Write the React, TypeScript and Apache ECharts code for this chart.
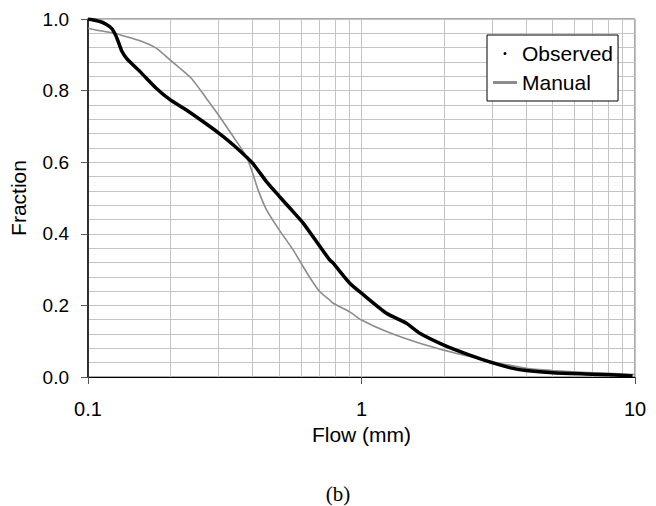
import React, { useEffect, useRef } from "react";
import * as echarts from "echarts";

const observedX = [0.1, 0.1106, 0.116, 0.122, 0.126, 0.129, 0.133, 0.1384, 0.145, 0.155, 0.178, 0.2, 0.229, 0.264, 0.3, 0.34, 0.4, 0.45, 0.5, 0.55, 0.612, 0.704, 0.765, 0.788, 0.906, 1.0, 1.234, 1.46, 1.633, 2.0, 2.487, 3.0, 3.58, 4.0, 5.0, 7.0, 8.08, 9.8];
const observedY = [1.0, 0.993, 0.986, 0.974, 0.956, 0.937, 0.91, 0.89, 0.874, 0.853, 0.806, 0.774, 0.746, 0.713, 0.682, 0.648, 0.597, 0.545, 0.505, 0.47, 0.43, 0.365, 0.327, 0.318, 0.262, 0.234, 0.178, 0.15, 0.122, 0.089, 0.061, 0.04, 0.024, 0.018, 0.012, 0.008, 0.006, 0.003];

const manualX = [0.1, 0.1106, 0.1255, 0.1346, 0.155, 0.178, 0.2, 0.239, 0.271, 0.3, 0.34, 0.38, 0.4, 0.419, 0.45, 0.5, 0.5625, 0.612, 0.656, 0.704, 0.765, 0.788, 0.906, 1.0, 1.234, 1.633, 2.0, 2.487, 3.0, 4.0, 5.0, 7.0, 10.0];
const manualY = [0.974, 0.967, 0.96, 0.953, 0.939, 0.918, 0.885, 0.834, 0.778, 0.732, 0.671, 0.615, 0.569, 0.522, 0.466, 0.411, 0.355, 0.308, 0.271, 0.238, 0.215, 0.206, 0.182, 0.159, 0.127, 0.094, 0.075, 0.057, 0.043, 0.024, 0.018, 0.012, 0.007];

const minorXGrid = [0.2, 0.3, 0.4, 0.5, 0.6, 0.7, 0.8, 0.9, 2, 3, 4, 5, 6, 7, 8, 9];

const seriesNames = ["Observed", "Manual"];

const FONT = "'Liberation Sans', Arial, sans-serif";
const GRID_COLOR = "#c4c4c4";

export default function App() {
  const ref = useRef<HTMLDivElement>(null);
  useEffect(() => {
    if (!ref.current) return;
    const chart = echarts.init(ref.current, null, { renderer: "svg" });
    chart.setOption({
      animation: false,
      backgroundColor: "#ffffff",
      textStyle: { fontFamily: FONT },
      grid: {
        left: 88,
        right: 21,
        top: 19,
        bottom: 129,
        show: true,
        borderColor: "#555555",
        borderWidth: 1,
        backgroundColor: "transparent",
      },
      legend: {
        orient: "vertical",
        left: 487,
        top: 35,
        padding: [8, 5, 8, 6],
        itemGap: 8,
        itemWidth: 24,
        itemHeight: 3,
        backgroundColor: "#ffffff",
        borderColor: "#000000",
        borderWidth: 1,
        borderRadius: 0,
        textStyle: { fontSize: 21, color: "#000", fontFamily: FONT },
        data: [
          { name: seriesNames[0], icon: "circle", itemStyle: { color: "#000" } },
          { name: seriesNames[1], icon: "rect", itemStyle: { color: "#8c8c8c" } },
        ],
      },
      xAxis: {
        type: "log",
        logBase: 10,
        min: 0.1,
        max: 10,
        name: "Flow (mm)",
        nameLocation: "middle",
        nameGap: 45,
        nameTextStyle: { fontSize: 21, color: "#000", fontFamily: FONT },
        axisLine: { show: true, lineStyle: { color: "#000", width: 1 } },
        axisTick: { show: true, length: 7, lineStyle: { color: "#555" } },
        axisLabel: {
          fontSize: 20,
          color: "#000",
          margin: 22,
          fontFamily: FONT,
          formatter: (v: number) => String(Number(v.toPrecision(3))),
        },
        splitLine: { show: true, lineStyle: { color: GRID_COLOR, width: 1 } },
      },
      yAxis: {
        type: "value",
        min: 0,
        max: 1,
        interval: 0.2,
        name: "Fraction",
        nameLocation: "middle",
        nameGap: 59,
        nameTextStyle: { fontSize: 21, color: "#000", fontFamily: FONT },
        axisLine: { show: true, lineStyle: { color: "#000", width: 1.5 } },
        axisTick: { show: true, length: 7, lineStyle: { color: "#555" } },
        axisLabel: {
          fontSize: 19,
          color: "#000",
          margin: 19,
          fontFamily: FONT,
          formatter: (v: number) => v.toFixed(1),
        },
        splitLine: { show: true, lineStyle: { color: GRID_COLOR, width: 1 } },
        minorTick: { show: false, splitNumber: 5 },
        minorSplitLine: { show: true, lineStyle: { color: GRID_COLOR, width: 1 } },
      },
      series: [
        {
          name: seriesNames[1],
          type: "line",
          z: 3,
          symbol: "none",
          smooth: 0.2,
          lineStyle: { color: "#8c8c8c", width: 1.6 },
          itemStyle: { color: "#8c8c8c" },
          data: manualX.map((x, i) => [x, manualY[i]]),
          markLine: {
            silent: true,
            z: 1,
            symbol: ["none", "none"],
            label: { show: false },
            lineStyle: { color: GRID_COLOR, type: "solid", width: 1 },
            data: minorXGrid.map((v) => ({ xAxis: v })),
          },
        },
        {
          name: seriesNames[0],
          type: "line",
          z: 4,
          symbol: "none",
          smooth: 0.2,
          lineStyle: { color: "#000", width: 3.5 },
          itemStyle: { color: "#000" },
          data: observedX.map((x, i) => [x, observedY[i]]),
        },
      ],
      graphic: [
        {
          type: "text",
          x: 338,
          y: 483,
          style: {
            text: "(b)",
            fontSize: 21,
            fontFamily: "'Liberation Serif', 'Times New Roman', serif",
            fill: "#000",
            textAlign: "center",
            textVerticalAlign: "top",
          },
        },
      ],
    });
    return () => chart.dispose();
  }, []);
  return (
    <div
      ref={ref}
      style={{ position: "absolute", left: 0, top: 0, width: 656, height: 506 }}
    />
  );
}
